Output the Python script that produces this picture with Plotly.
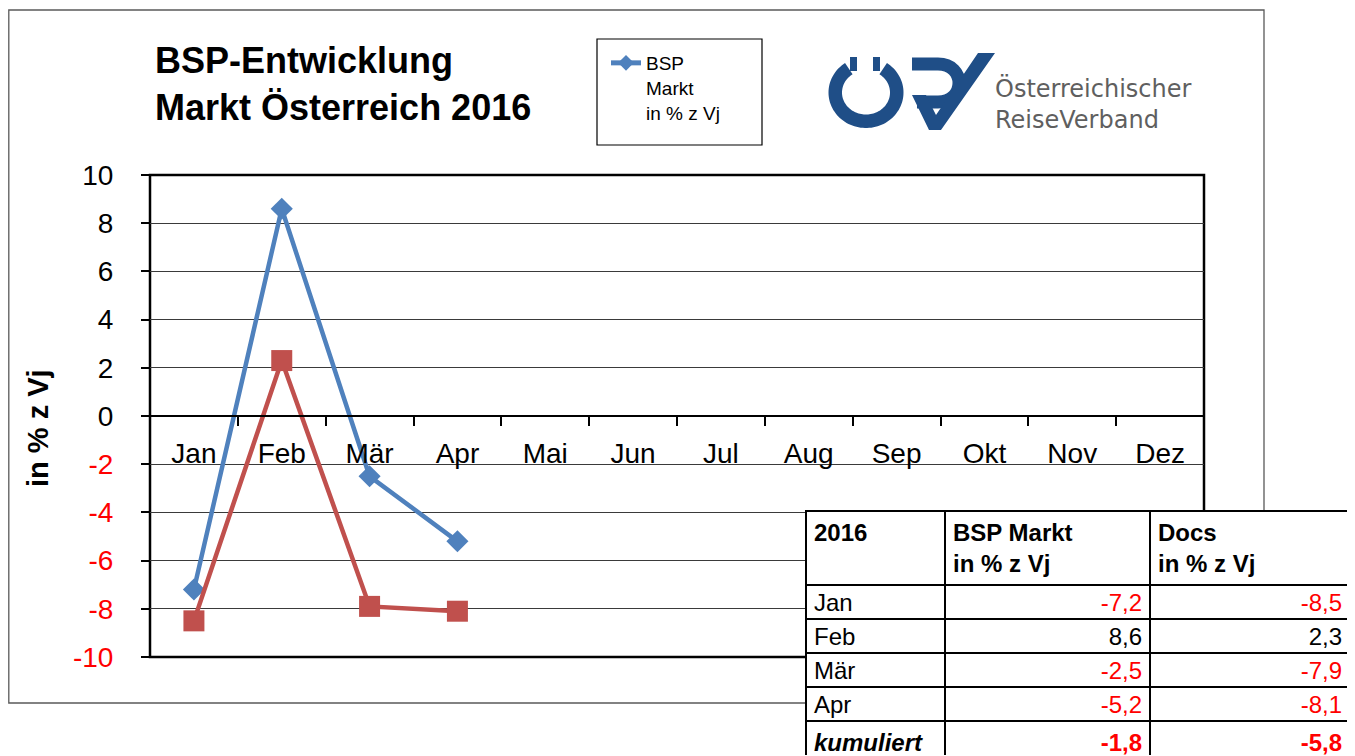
import numpy as np
import plotly.graph_objects as go

# ---------------- data ----------------
months = ["Jan", "Feb", "Mär", "Apr", "Mai", "Jun", "Jul", "Aug", "Sep", "Okt", "Nov", "Dez"]
bsp_markt = [-7.2, 8.6, -2.5, -5.2]
docs = [-8.5, 2.3, -7.9, -8.1]
table_months = ["Jan", "Feb", "Mär", "Apr"]
kum_bsp = -1.8
kum_docs = -5.8
y_ticks = [-10, -8, -6, -4, -2, 0, 2, 4, 6, 8, 10]

# the page shows the figure with an 8px offset, so work in screen pixels minus that offset
OFF = 8
W, H = 1355 - OFF, 756 - OFF


def px(x):
    return (x - OFF) / W


def py(y):
    return 1 - (y - OFF) / H


BLUE = "#4F81BD"
RED = "#C0504D"
LOGO = "#1F4E87"
FONT = "Liberation Sans, Arial, sans-serif"

fig = go.Figure()
fig.add_trace(go.Scatter(
    x=months[:len(bsp_markt)], y=bsp_markt, name="BSP<br>Markt<br>in % z Vj",
    mode="lines+markers", line=dict(color=BLUE, width=4.5),
    marker=dict(symbol="diamond", size=17, color=BLUE), showlegend=True))
fig.add_trace(go.Scatter(
    x=months[:len(docs)], y=docs, name="Docs in % z Vj",
    mode="lines+markers", line=dict(color=RED, width=4.5),
    marker=dict(symbol="square", size=21, color=RED), showlegend=False))

# plot domain
yd = [py(657), py(175)]
xd = [px(150), px(1204)]
x_axis_pos = yd[0] + (0 - y_ticks[0]) / (y_ticks[-1] - y_ticks[0]) * (yd[1] - yd[0])

ticktext = [(f'<span style="color:#FF0000">{v}</span>' if v < 0 else str(v)) for v in y_ticks]


# ---------------- table ----------------
def fmt(v):
    return f"{v:.1f}".replace(".", ",")


col0 = table_months + ["<b><i>kumuliert</i></b>"]
col1 = [fmt(v) for v in bsp_markt] + [f"<b>{fmt(kum_bsp)}</b>"]
col2 = [fmt(v) for v in docs] + [f"<b>{fmt(kum_docs)}</b>"]
c1 = ["#FF0000" if v < 0 else "black" for v in bsp_markt + [kum_bsp]]
c2 = ["#FF0000" if v < 0 else "black" for v in docs + [kum_docs]]

fig.add_trace(go.Table(
    domain=dict(x=[px(806), px(1350)], y=[0, py(511)]),
    columnwidth=[139, 205, 200],
    header=dict(values=["<b>2016</b>", "<b>BSP Markt<br>in % z Vj</b>", "<b>Docs<br>in % z Vj</b>"],
                align="left", font=dict(family=FONT, size=24, color="black"),
                fill_color="white", line=dict(color="black", width=2), height=72),
    cells=dict(values=[col0, col1, col2], align=["left", "right", "right"],
               font=dict(family=FONT, size=24, color=[["black"] * 5, c1, c2]),
               fill_color="white", line=dict(color="black", width=2), height=34),
))

# ---------------- shapes ----------------
shapes = []
shapes.append(dict(type="rect", xref="paper", yref="paper", x0=px(8.8), x1=px(1264), y0=py(703), y1=py(10),
                   line=dict(color="#595959", width=1.3), layer="below"))
shapes.append(dict(type="rect", xref="x domain", yref="y domain", x0=0, x1=1, y0=0, y1=1,
                   line=dict(color="black", width=2.5), layer="below"))
shapes.append(dict(type="rect", xref="paper", yref="paper", x0=px(597), x1=px(762), y0=py(145), y1=py(39),
                   line=dict(color="black", width=1.2), layer="below"))


def path_from(points, close=True):
    s = "M " + " L ".join(f"{px(x):.5f},{py(y):.5f}" for x, y in points)
    return s + (" Z" if close else "")


# logo: ring with a gap at the top
cx, cy = 866, 92.5
rxo, ryo, rxi, ryi = 37.5, 35.5, 24.0, 22.0
ang = np.radians(np.linspace(124, 416, 90))
outer = [(cx + rxo * np.cos(a), cy - ryo * np.sin(a)) for a in ang]
inner = [(cx + rxi * np.cos(a), cy - ryi * np.sin(a)) for a in ang[::-1]]
shapes.append(dict(type="path", xref="paper", yref="paper", path=path_from(outer + inner),
                   fillcolor=LOGO, line=dict(width=0)))
for bx in (850, 873):
    shapes.append(dict(type="rect", xref="paper", yref="paper", x0=px(bx), x1=px(bx + 7), y0=py(71), y1=py(57),
                       fillcolor=LOGO, line=dict(width=0)))
bowl = (f"M {px(912):.5f},{py(64):.5f} L {px(938):.5f},{py(64):.5f} "
        f"C {px(966):.5f},{py(64):.5f} {px(966):.5f},{py(102):.5f} {px(938):.5f},{py(102):.5f} "
        f"L {px(917):.5f},{py(102):.5f}")
shapes.append(dict(type="path", xref="paper", yref="paper", path=bowl, line=dict(color=LOGO, width=13)))
vpoly = [(912, 95), (926, 95), (936, 115), (978, 53), (995, 53), (941, 130), (929, 130)]
shapes.append(dict(type="path", xref="paper", yref="paper", path=path_from(vpoly),
                   fillcolor=LOGO, line=dict(width=0)))

# ---------------- annotations ----------------
ann = []
ann.append(dict(xref="paper", yref="paper", x=px(153), y=py(84), xanchor="left", yanchor="middle",
                text="<b>BSP-Entwicklung<br>Markt Österreich 2016</b>", align="left", showarrow=False,
                font=dict(family=FONT, size=36, color="black")))
ann.append(dict(xref="paper", yref="paper", x=px(38), y=py(428), xanchor="center", yanchor="middle",
                text="<b>in % z Vj</b>", textangle=-90, showarrow=False,
                font=dict(family=FONT, size=29, color="black")))
ann.append(dict(xref="paper", yref="paper", x=px(993), y=py(104), xanchor="left", yanchor="middle",
                text="Österreichischer<br>ReiseVerband", align="left", showarrow=False,
                font=dict(family="DejaVu Sans, sans-serif", size=24, color="#5f5f5f")))

fig.update_layout(
    width=W, height=H,
    margin=dict(l=0, r=0, t=0, b=0, autoexpand=False),
    paper_bgcolor="white", plot_bgcolor="white",
    font=dict(family=FONT, color="black"),
    showlegend=True,
    legend=dict(x=px(606), y=py(44), xanchor="left", yanchor="top", bgcolor="rgba(0,0,0,0)",
                font=dict(family=FONT, size=19, color="black"), valign="top", itemsizing="constant"),
    xaxis=dict(domain=xd, type="category", categoryorder="array", categoryarray=months,
               range=[-0.5, len(months) - 0.5], anchor="free", position=x_axis_pos, side="bottom",
               showline=True, linecolor="black", linewidth=1.5, ticks="outside", tickson="boundaries",
               ticklen=9, tickcolor="black", tickwidth=1.5, tickfont=dict(family=FONT, size=28, color="black"),
               showgrid=False, zeroline=False, ticklabelstandoff=13, fixedrange=True),
    yaxis=dict(domain=yd, range=[y_ticks[0], y_ticks[-1]], tickmode="array", tickvals=y_ticks,
               ticktext=ticktext, ticks="outside", ticklen=8, tickcolor="black", tickwidth=1.5,
               showgrid=True, gridcolor="#3a3a3a", gridwidth=1.3, zeroline=False, showline=False,
               tickfont=dict(family=FONT, size=28, color="black"), ticklabelstandoff=22, fixedrange=True),
    shapes=shapes, annotations=ann,
)

fig.write_html("out.html")
